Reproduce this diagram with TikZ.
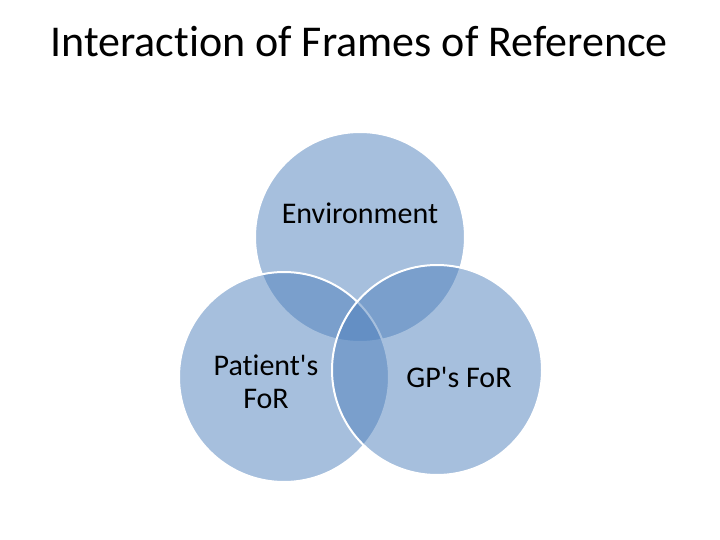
\documentclass[tikz,border=0pt]{standalone}
\usepackage{fontspec}
\setmainfont{Carlito}[Ligatures={TeXOff,NoCommon}]
\definecolor{vennblue}{RGB}{79,129,189}
\begin{document}
\begin{tikzpicture}[x=1pt,y=-1pt,
  venn/.style={fill=vennblue,fill opacity=0.5,draw=white,draw opacity=1,line width=2pt},
  label/.style={font=\fontsize{30}{33}\selectfont,text=black,align=center,inner sep=0pt},
  title/.style={font=\fontsize{44}{52}\selectfont,text=black,inner sep=0pt}]
\useasboundingbox[fill=white] (0,0) rectangle (720,540);
\node[title,anchor=base] (title) at (359,57) {Interaction of Frames of Reference};
\path[venn] (360,237) circle[radius=105];
\path[venn] (284,377) circle[radius=105];
\path[venn] (437,370) circle[radius=105];
\node[label,anchor=base] (env) at (360,224) {Environment};
\node[label,anchor=base] (pat) at (266,375) {Patient's};
\node[label,anchor=base] (patfor) at (266,408) {FoR};
\node[label,anchor=base] (gp) at (459,387) {GP's FoR};
\end{tikzpicture}
\end{document}
